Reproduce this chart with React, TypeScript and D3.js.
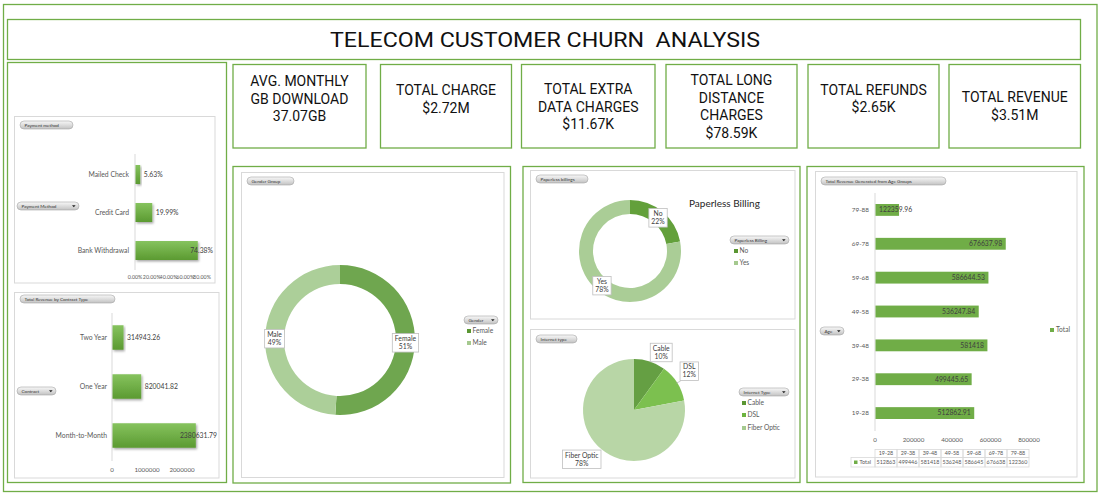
import React, { useEffect, useRef } from 'react';
import * as d3 from 'd3';

// ---- data ----
const paymentMethods = ['Mailed Check', 'Credit Card', 'Bank Withdrawal'];
const paymentShare = [0.0563, 0.1999, 0.7438];
const paymentTicks = [0, 0.2, 0.4, 0.6, 0.8];

const contractTypes = ['Two Year', 'One Year', 'Month-to-Month'];
const contractRevenue = [314943.26, 820041.82, 2380631.79];
const contractTicks = [0, 1000000, 2000000];

const genders = ['Female', 'Male'];
const genderShare = [51, 49];

const billingTypes = ['No', 'Yes'];
const billingShare = [22, 78];

const internetTypes = ['Cable', 'DSL', 'Fiber Optic'];
const internetShare = [10, 12, 78];

const ageGroups = ['19-28', '29-38', '39-48', '49-58', '59-68', '69-78', '79-88'];
const ageRevenue = [512862.91, 499445.65, 581418, 536247.84, 586644.53, 676637.98, 122359.96];
const ageTicks = [0, 200000, 400000, 600000, 800000];

const kpiTitles = [
  ['AVG. MONTHLY', 'GB DOWNLOAD'],
  ['TOTAL CHARGE'],
  ['TOTAL EXTRA', 'DATA CHARGES'],
  ['TOTAL LONG', 'DISTANCE', 'CHARGES'],
  ['TOTAL REFUNDS'],
  ['TOTAL REVENUE'],
];
const kpiValues = ['37.07GB', '$2.72M', '$11.67K', '$78.59K', '$2.65K', '$3.51M'];

// ---- layout ----
const GREEN = '#70ad47';
const AXIS = '#d9d9d9';
const LABEL = '#595959';
const DARK = '#404040';
const FONT = 'Lato, "Open Sans", "Liberation Sans", sans-serif';
const HEAD = 'Roboto, "DejaVu Sans", sans-serif';

const kpiBox = [
  { x: 233, w: 133, cy: 98.5 },
  { x: 380.5, w: 131, cy: 99 },
  { x: 521.5, w: 133.5, cy: 106.5 },
  { x: 666, w: 131, cy: 106.5 },
  { x: 808, w: 131, cy: 98.5 },
  { x: 949, w: 131.5, cy: 106 },
];

export default function App() {
  const ref = useRef<SVGSVGElement>(null);

  useEffect(() => {
    const svg = d3.select(ref.current);
    svg.selectAll('*').remove();
    const defs = svg.append('defs');

    const grad = (id: string, top: string, bottom: string, y1?: number, y2?: number) => {
      const lg = defs.append('linearGradient').attr('id', id).attr('x1', 0).attr('x2', 0);
      if (y1 !== undefined) {
        lg.attr('gradientUnits', 'userSpaceOnUse').attr('y1', y1).attr('y2', y2);
      } else {
        lg.attr('y1', 0).attr('y2', 1);
      }
      lg.append('stop').attr('offset', '0%').attr('stop-color', top);
      lg.append('stop').attr('offset', '100%').attr('stop-color', bottom);
    };
    grad('barGrad', '#86c35e', '#5b9a31');
    grad('pillGrad', '#f8f8f8', '#c2c2c2');

    const f = defs.append('filter').attr('id', 'shadow').attr('x', '-10%').attr('y', '-20%').attr('width', '130%').attr('height', '160%');
    f.append('feDropShadow').attr('dx', 1.2).attr('dy', 1.5).attr('stdDeviation', 0.9)
      .attr('flood-color', '#000').attr('flood-opacity', 0.35);

    const box = (x: number, y: number, w: number, h: number, color: string, sw = 1.3) => {
      svg.append('rect').attr('x', x).attr('y', y).attr('width', w).attr('height', h)
        .attr('fill', 'none').attr('stroke', color).attr('stroke-width', sw);
    };

    const pill = (x: number, y: number, w: number, label: string, arrow = false) => {
      const g = svg.append('g');
      g.append('rect').attr('x', x).attr('y', y).attr('width', w).attr('height', 8).attr('rx', 4)
        .attr('fill', 'url(#pillGrad)').attr('stroke', '#a6a6a6').attr('stroke-width', 0.6);
      g.append('text').attr('x', x + 4.5).attr('y', y + 5.6).attr('font-size', 4.6)
        .attr('font-family', FONT).attr('fill', '#333').text(label);
      if (arrow) {
        g.append('path').attr('d', `M${x + w - 7},${y + 3.2}h3.6l-1.8,2.1z`).attr('fill', '#222');
      }
    };

    // ---- frames ----
    box(3.5, 4.5, 1093.5, 487, GREEN);
    box(7.5, 19.5, 1073, 40, GREEN);
    box(7.5, 62.5, 219, 420, GREEN);
    box(233, 166.5, 277.5, 316.5, GREEN);
    box(523, 166.5, 277, 316, GREEN);
    box(807, 166.5, 277, 316, GREEN);

    // title
    svg.append('text').attr('x', 545).attr('y', 39.5).attr('dy', '0.36em')
      .attr('text-anchor', 'middle').attr('font-family', HEAD).attr('font-size', 21)
      .attr('font-weight', 400).attr('fill', '#111')
      .attr('textLength', 430).attr('lengthAdjust', 'spacingAndGlyphs')
      .attr('xml:space', 'preserve')
      .text('TELECOM CUSTOMER CHURN  ANALYSIS');

    // KPI cards
    kpiBox.forEach((b, i) => {
      box(b.x, 64.5, b.w, 83.5, GREEN);
      const lines = [...kpiTitles[i], kpiValues[i]];
      const y0 = b.cy - ((lines.length - 1) * 17.5) / 2;
      svg.append('g').selectAll('text').data(lines).enter().append('text')
        .attr('x', b.x + b.w / 2).attr('y', (d, j) => y0 + j * 17.5).attr('dy', '0.36em')
        .attr('text-anchor', 'middle').attr('font-family', HEAD).attr('font-size', 14)
        .attr('font-weight', 400).attr('fill', '#111').text(d => d);
    });

    // ---- horizontal bar chart helper (left column) ----
    const leftBars = (
      cats: string[], vals: number[], y: d3.ScaleBand<string>, x: d3.ScaleLinear<number, number>,
      ticks: number[], tickFmt: (v: number) => string, valFmt: (v: number) => string,
      catX: number, tickY: number, maxRight: number, axisTop: number, axisBottom: number, tickSize: number
    ) => {
      const g = svg.append('g').attr('font-family', FONT);
      g.append('line').attr('x1', x(0)).attr('x2', x(0)).attr('y1', axisTop).attr('y2', axisBottom)
        .attr('stroke', AXIS).attr('stroke-width', 1);
      g.selectAll('rect.bar').data(cats).enter().append('rect').attr('class', 'bar')
        .attr('x', x(0) + 0.5).attr('y', d => y(d) as number)
        .attr('width', (d, i) => x(vals[i]) - x(0)).attr('height', y.bandwidth())
        .attr('fill', 'url(#barGrad)').attr('filter', 'url(#shadow)');
      g.selectAll('text.cat').data(cats).enter().append('text').attr('class', 'cat')
        .attr('x', catX).attr('y', d => (y(d) as number) + y.bandwidth() / 2).attr('dy', '0.35em')
        .attr('text-anchor', 'end').attr('font-size', 6.8).attr('fill', LABEL).text(d => d);
      g.selectAll('text.val').data(cats).enter().append('text').attr('class', 'val')
        .attr('y', d => (y(d) as number) + y.bandwidth() / 2).attr('dy', '0.35em')
        .attr('font-size', 6.8).attr('fill', DARK).text((d, i) => valFmt(vals[i]))
        .each(function (d, i) {
          const t = this as SVGTextElement;
          const w = t.getComputedTextLength();
          d3.select(t).attr('x', Math.min(x(vals[i]) + 4, maxRight - w));
        });
      g.selectAll('text.tick').data(ticks).enter().append('text').attr('class', 'tick')
        .attr('x', d => x(d)).attr('y', tickY).attr('text-anchor', 'middle')
        .attr('font-size', tickSize).attr('fill', LABEL).text(d => tickFmt(d));
    };

    // payment method
    box(14.5, 116.5, 200.5, 166.5, AXIS, 1);
    pill(20, 121, 53, 'Payment method');
    pill(17, 202, 62, 'Payment Method', true);
    const yPay = d3.scaleBand<string>().domain(paymentMethods).range([155.5, 269.5]).paddingInner(0.5).paddingOuter(0.25);
    const xPay = d3.scaleLinear().domain([0, 0.8]).range([135, 202]);
    leftBars(paymentMethods, paymentShare, yPay, xPay, paymentTicks, d3.format('.2%'), d3.format('.2%'),
      129, 279, 213, 154, 270, 5.3);

    // contract type
    box(14.5, 292.5, 204.5, 185.5, AXIS, 1);
    pill(20, 295, 95, 'Total Revenue by Contract Type');
    pill(17, 387, 39, 'Contract', true);
    const yCon = d3.scaleBand<string>().domain(contractTypes).range([313, 460]).paddingInner(0.5).paddingOuter(0.25);
    const xCon = d3.scaleLinear().domain([0, 2000000]).range([112, 182]);
    leftBars(contractTypes, contractRevenue, yCon, xCon, contractTicks, d3.format('d'), d3.format('.2f'),
      107, 472, 217, 313, 461, 6.2);

    // ---- pie / donut helper ----
    const pieChart = (
      id: string, cats: string[], vals: number[], cx: number, cy: number, R: number, r: number,
      fills: [string, string][], inside: boolean
    ) => {
      fills.forEach((c, i) => grad(`${id}${i}`, c[0], c[1], cy - R, cy + R));
      const pie = d3.pie<number>().sort(null).value(d => d)(vals);
      const arc = d3.arc<d3.PieArcDatum<number>>().innerRadius(r).outerRadius(R);
      const total = d3.sum(vals);
      const g = svg.append('g').attr('transform', `translate(${cx},${cy})`).attr('font-family', FONT);
      g.selectAll('path').data(pie).enter().append('path')
        .attr('d', arc).attr('fill', (d, i) => `url(#${id}${i})`);
      pie.forEach((p, i) => {
        const mid = (p.startAngle + p.endAngle) / 2;
        const sx = Math.sin(mid), sy = -Math.cos(mid);
        const lg = g.append('g');
        const t = lg.append('text').attr('font-size', 6.8).attr('fill', DARK).attr('text-anchor', 'middle');
        t.append('tspan').attr('x', 0).attr('y', -1.5).text(cats[i]);
        t.append('tspan').attr('x', 0).attr('y', 6.5).text(d3.format('.0%')(vals[i] / total));
        const w = Math.max(...Array.from((t.node() as SVGTextElement).querySelectorAll('tspan'))
          .map(s => (s as SVGTextContentElement).getComputedTextLength())) + 5;
        const h = 18.5;
        lg.insert('rect', 'text').attr('x', -w / 2).attr('y', -9).attr('width', w).attr('height', h)
          .attr('fill', '#fff').attr('stroke', '#bfbfbf').attr('stroke-width', 0.8);
        if (inside) {
          const c = arc.centroid(p);
          lg.attr('transform', `translate(${c[0]},${c[1] + 0.5})`);
        } else {
          const ex = R * sx, ey = R * sy;
          const gap = mid > 0.7 && mid < 1.4 ? 3 : 0.5;
          const bx = sx >= 0 ? ex + gap + w / 2 : ex - gap - w / 2;
          const by = sy <= 0 ? ey - gap - h / 2 + 0.5 : ey + gap + h / 2;
          lg.attr('transform', `translate(${bx},${by})`);
          if (gap > 1) {
            g.append('line').attr('x1', ex - 1).attr('y1', ey + 0.5).attr('x2', ex + gap + 0.5).attr('y2', ey - 1.5)
              .attr('stroke', '#a6a6a6').attr('stroke-width', 0.6);
          }
        }
      });
    };

    const legend = (cats: string[], colors: string[], x: number, ys: number[]) => {
      const g = svg.append('g').attr('font-family', FONT);
      g.selectAll('rect').data(cats).enter().append('rect')
        .attr('x', x).attr('y', (d, i) => ys[i] - 2).attr('width', 4).attr('height', 4)
        .attr('fill', (d, i) => colors[i]);
      g.selectAll('text').data(cats).enter().append('text')
        .attr('x', x + 5.5).attr('y', (d, i) => ys[i]).attr('dy', '0.35em')
        .attr('font-size', 6.6).attr('fill', LABEL).text(d => d);
    };

    // gender
    box(241.5, 172.5, 262.5, 305, AXIS, 1);
    pill(247, 177, 47, 'Gender Group');
    pill(464, 316, 34, 'Gender', true);
    pieChart('gen', genders, genderShare, 340, 340, 75, 56,
      [['#6fa64f', '#4e8c25'], ['#accf99', '#8ab774']], true);
    legend(genders, ['#5a9632', '#a5c98f'], 467, [331, 343]);

    // paperless billing
    box(530.5, 170.5, 264.5, 148.5, AXIS, 1);
    pill(536, 175, 52, 'Paperless billings');
    pill(730, 236, 59, 'Paperless Billing', true);
    svg.append('text').attr('x', 689).attr('y', 207).attr('font-family', FONT).attr('font-size', 10)
      .attr('fill', '#262626').text('Paperless Billing');
    pieChart('bill', billingTypes, billingShare, 630, 251, 51, 37,
      [['#63a03b', '#4e8b28'], ['#aacd96', '#8cb978']], true);
    legend(billingTypes, ['#5a9632', '#a5c98f'], 734, [251, 263]);

    // internet type
    box(530.5, 329.5, 264.5, 148.5, AXIS, 1);
    pill(536, 335, 41, 'Internet type');
    pill(739, 388, 50, 'Internet Type', true);
    pieChart('net', internetTypes, internetShare, 634, 410, 51, 0,
      [['#659f43', '#4f8a2d'], ['#7cc04f', '#62a836'], ['#b8d6a6', '#96c081']], false);
    legend(internetTypes, ['#5a9632', '#6db33f', '#a5c98f'], 742, [403, 415, 428]);

    // ---- age groups ----
    box(815.5, 171.5, 261.5, 305.5, AXIS, 1);
    pill(821, 177, 125, 'Total Revenue Generated from Age Groups');
    pill(820, 327, 24, 'Age', true);
    const yAge = d3.scaleBand<string>().domain([...ageGroups].reverse()).range([193, 430]).paddingInner(0.65).paddingOuter(0.325);
    const xAge = d3.scaleLinear().domain([0, 800000]).range([875, 1029]);
    const ga = svg.append('g').attr('font-family', FONT);
    ga.append('line').attr('x1', xAge(0)).attr('x2', xAge(0)).attr('y1', 193).attr('y2', 431)
      .attr('stroke', AXIS).attr('stroke-width', 1);
    ga.selectAll('rect.bar').data(ageGroups).enter().append('rect').attr('class', 'bar')
      .attr('x', xAge(0) + 0.5).attr('y', d => yAge(d) as number)
      .attr('width', (d, i) => xAge(ageRevenue[i]) - xAge(0)).attr('height', yAge.bandwidth())
      .attr('fill', GREEN);
    ga.selectAll('text.cat').data(ageGroups).enter().append('text').attr('class', 'cat')
      .attr('x', 869).attr('y', d => (yAge(d) as number) + yAge.bandwidth() / 2).attr('dy', '0.35em')
      .attr('text-anchor', 'end').attr('font-size', 6.4).attr('fill', LABEL).text(d => d);
    const ageFmt = d3.format('.2~f');
    ga.selectAll('text.val').data(ageGroups).enter().append('text').attr('class', 'val')
      .attr('y', d => (yAge(d) as number) + yAge.bandwidth() / 2).attr('dy', '0.35em')
      .attr('font-size', 6.8).attr('fill', DARK).text((d, i) => ageFmt(ageRevenue[i]))
      .each(function (d, i) {
        const t = this as SVGTextElement;
        const w = t.getComputedTextLength();
        const end = xAge(ageRevenue[i]) - 3;
        d3.select(t).attr('x', Math.max(end - w, xAge(0) + 4));
      });
    ga.selectAll('text.tick').data(ageTicks).enter().append('text').attr('class', 'tick')
      .attr('x', d => xAge(d)).attr('y', 441.5).attr('text-anchor', 'middle')
      .attr('font-size', 6.2).attr('fill', LABEL).text(d => d3.format('d')(d));
    ga.append('rect').attr('x', 1050).attr('y', 328).attr('width', 4).attr('height', 4).attr('fill', GREEN);
    ga.append('text').attr('x', 1056).attr('y', 330).attr('dy', '0.35em').attr('font-size', 6.6)
      .attr('fill', LABEL).text('Total');

    // data table under the age chart
    const colW = (xAge(800000) - xAge(0)) / ageGroups.length;
    const tbl = ga.append('g').attr('font-size', 5.4).attr('fill', LABEL);
    ageGroups.forEach((a, i) => {
      const x0 = xAge(0) + i * colW;
      tbl.append('rect').attr('x', x0).attr('y', 449.5).attr('width', colW).attr('height', 8)
        .attr('fill', 'none').attr('stroke', AXIS).attr('stroke-width', 0.8);
      tbl.append('rect').attr('x', x0).attr('y', 457.5).attr('width', colW).attr('height', 9.5)
        .attr('fill', 'none').attr('stroke', AXIS).attr('stroke-width', 0.8);
      tbl.append('text').attr('x', x0 + colW / 2).attr('y', 453.5).attr('dy', '0.35em')
        .attr('text-anchor', 'middle').text(a);
      tbl.append('text').attr('x', x0 + colW / 2).attr('y', 462.3).attr('dy', '0.35em')
        .attr('text-anchor', 'middle').text(d3.format('.0f')(ageRevenue[i]));
    });
    tbl.append('rect').attr('x', 851).attr('y', 457.5).attr('width', xAge(0) - 851).attr('height', 9.5)
      .attr('fill', 'none').attr('stroke', AXIS).attr('stroke-width', 0.8);
    tbl.append('rect').attr('x', 854).attr('y', 460.5).attr('width', 3.5).attr('height', 3.5).attr('fill', GREEN);
    tbl.append('text').attr('x', 859.5).attr('y', 462.3).attr('dy', '0.35em').text('Total');
  }, []);

  return (
    <svg ref={ref} width={1104} height={498}
      style={{ position: 'absolute', left: 0, top: 0, background: '#fff' }} />
  );
}
